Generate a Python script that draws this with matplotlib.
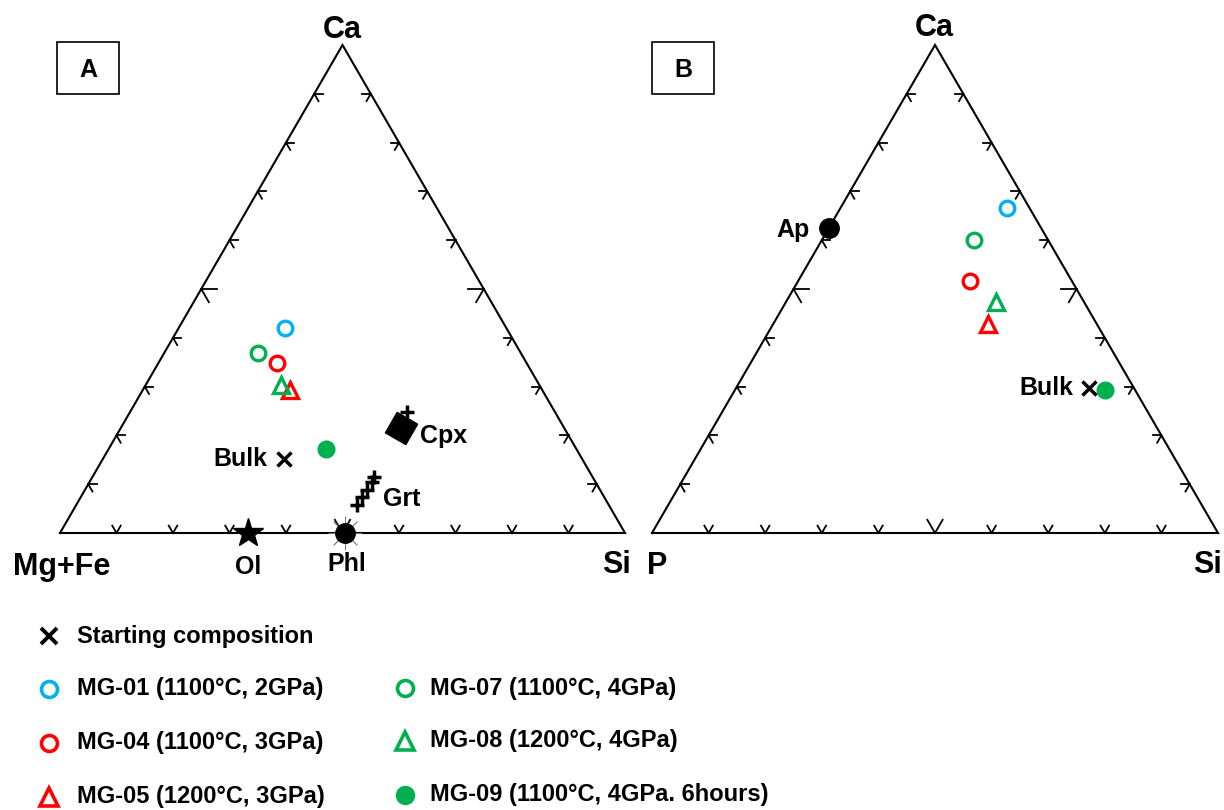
import numpy as np
import matplotlib
matplotlib.use('Agg')
import matplotlib.pyplot as plt
from matplotlib.patches import Rectangle

plt.rcParams['font.family'] = ['Liberation Sans', 'DejaVu Sans']
plt.rcParams['font.weight'] = 'bold'

H = np.sqrt(3) / 2

# sample order
samples = ['MG-01', 'MG-04', 'MG-05', 'MG-07', 'MG-08', 'MG-09']
sample_labels = ['MG-01 (1100°C, 2GPa)', 'MG-04 (1100°C, 3GPa)', 'MG-05 (1200°C, 3GPa)',
                 'MG-07 (1100°C, 4GPa)', 'MG-08 (1200°C, 4GPa)', 'MG-09 (1100°C, 4GPa. 6hours)']

# panel A : Ca - (Mg+Fe) - Si, fractions of Ca and Si (Mg+Fe = rest)
a_ca = [0.420, 0.348, 0.293, 0.369, 0.303, 0.172]
a_si = [0.188, 0.210, 0.260, 0.166, 0.239, 0.385]
a_bulk = (0.152, 0.320)
ol = (0.0, 0.333)
phl = (0.0, 0.505)
cpx_ca = [0.215]
cpx_si = [0.496]
cpx_out = (0.248, 0.490)
grt_ca = [0.057, 0.074, 0.088, 0.105, 0.115]
grt_si = [0.497, 0.498, 0.499, 0.500, 0.498]

# panel B : Ca - P - Si
b_ca = [0.666, 0.516, 0.428, 0.600, 0.473, 0.293]
b_si = [0.294, 0.304, 0.380, 0.269, 0.371, 0.653]
b_bulk = (0.297, 0.623)
ap = (0.625, 0.0)

BLUE = '#00b0f0'
RED = '#ff0000'
GREEN = '#00b050'
styles = {
    'MG-01': dict(marker='o', mfc='none', mec=BLUE, ms=10.5, mew=2.4),
    'MG-04': dict(marker='o', mfc='none', mec=RED, ms=10.5, mew=2.4),
    'MG-05': dict(marker='^', mfc='none', mec=RED, ms=11.5, mew=2.4),
    'MG-07': dict(marker='o', mfc='none', mec=GREEN, ms=10.5, mew=2.4),
    'MG-08': dict(marker='^', mfc='none', mec=GREEN, ms=11.5, mew=2.4),
    'MG-09': dict(marker='o', mfc=GREEN, mec=GREEN, ms=13, mew=0),
}


def tern(ca, si):
    ca = np.asarray(ca, dtype=float)
    si = np.asarray(si, dtype=float)
    return si + ca / 2, ca * H


def draw_triangle(ax):
    ax.plot([0, 1, 0.5, 0], [0, 0, H, 0], color='black', lw=1.5, clip_on=False,
            solid_joinstyle='miter')
    # ticks shaped like arrowheads, arms parallel to the other two sides
    up_r = np.array([0.5, H])
    up_l = np.array([-0.5, H])
    right = np.array([1.0, 0])
    down_r = np.array([0.5, -H])
    down_l = np.array([-0.5, -H])
    for t in np.arange(1, 10) / 10:
        L = 0.027 if abs(t - 0.5) < 1e-6 else 0.015
        edges = [(np.array([t, 0]), up_r, up_l),
                 (np.array([0.5 * t, H * t]), right, down_r),
                 (np.array([1 - 0.5 * t, H * t]), -right, down_l)]
        for p, d1, d2 in edges:
            for d in (d1, d2):
                ax.plot([p[0], p[0] + L * d[0]], [p[1], p[1] + L * d[1]],
                        color='black', lw=1.3, clip_on=False)
    ax.set_xlim(0, 1)
    ax.set_ylim(0, H)
    ax.axis('off')


def label(ax, xy, text, dx, dy, size=18, ha='center'):
    ax.annotate(text, xy=xy, xytext=(dx, dy), textcoords='offset pixels',
                ha=ha, va='center', fontsize=size, fontweight='bold')


fig = plt.figure(figsize=(12.24, 8.10), dpi=100)

axA = fig.add_axes([60 / 1224, 277 / 810, 565 / 1224, 488 / 810])
axB = fig.add_axes([652 / 1224, 277 / 810, 566 / 1224, 488 / 810])

# ---- panel A
draw_triangle(axA)
label(axA, (0.5, H), 'Ca', 0, 15, size=22)
label(axA, (0, 0), 'Mg+Fe', 2, -34, size=22)
label(axA, (1, 0), 'Si', -9, -32, size=22)

axA.plot(*tern(phl[0], phl[1]), marker=(8, 2, 0), ms=24, mec='#777777', mew=0.6,
         ls='none', clip_on=False)
axA.plot(*tern(phl[0], phl[1]), 'o', color='black', ms=14, clip_on=False)
axA.plot(*tern(ol[0], ol[1]), '*', color='black', ms=22, clip_on=False)
axA.plot(*tern(cpx_ca, cpx_si), marker=(4, 0, 15), color='black', ms=24, ls='none')
axA.plot(*tern(cpx_out[0], cpx_out[1]), '+', color='black', ms=10, mew=2.5)
axA.plot(*tern(grt_ca, grt_si), '+', color='black', ms=10, mew=2.5, ls='none')
for i, s in enumerate(samples):
    axA.plot(*tern(a_ca[i], a_si[i]), ls='none', **styles[s])
axA.plot(*tern(a_bulk[0], a_bulk[1]), 'x', color='black', ms=10, mew=2.5)

label(axA, tern(ol[0], ol[1]), 'Ol', 0, -34)
label(axA, tern(phl[0], phl[1]), 'Phl', 1, -31)
label(axA, tern(cpx_ca[0], cpx_si[0]), 'Cpx', 19, -8, ha='left')
label(axA, tern(grt_ca[2], grt_si[2]), 'Grt', 16, -9, ha='left')
label(axA, tern(a_bulk[0], a_bulk[1]), 'Bulk', -16, 0, ha='right')

# ---- panel B
draw_triangle(axB)
label(axB, (0.5, H), 'Ca', -1, 17, size=22)
label(axB, (0, 0), 'P', 5, -33, size=22)
label(axB, (1, 0), 'Si', -11, -32, size=22)

axB.plot(*tern(ap[0], ap[1]), 'o', color='black', ms=14, clip_on=False)
for i, s in enumerate(samples):
    axB.plot(*tern(b_ca[i], b_si[i]), ls='none', **styles[s])
axB.plot(*tern(b_bulk[0], b_bulk[1]), 'x', color='black', ms=10, mew=2.5)
label(axB, tern(ap[0], ap[1]), 'Ap', -19, -2, ha='right')
label(axB, tern(b_bulk[0], b_bulk[1]), 'Bulk', -15, 0, ha='right')

# ---- panel letters
for x0, letter in [(57, 'A'), (652, 'B')]:
    fig.add_artist(Rectangle((x0 / 1224, 1 - 94 / 810), 62 / 1224, 52 / 810,
                             transform=fig.transFigure, fill=False, lw=1.2, ec='black'))
    fig.text((x0 + 31) / 1224, 1 - 70 / 810, letter, ha='center', va='center',
             fontsize=18, fontweight='bold')

# ---- legend (drawn in figure pixel space)
legend_style = {
    'MG-01': dict(ms=11.5, mew=2.6), 'MG-04': dict(ms=11.5, mew=2.6),
    'MG-05': dict(ms=13, mew=2.6), 'MG-07': dict(ms=11.5, mew=2.6),
    'MG-08': dict(ms=13, mew=2.6), 'MG-09': dict(ms=14, mew=0),
}
axL = fig.add_axes([0, 0, 1, 1], zorder=-1)
axL.set_xlim(0, 1224)
axL.set_ylim(810, 0)
axL.axis('off')
axL.plot(49, 636, 'x', color='black', ms=11, mew=2.8)
axL.text(77, 636, 'Starting composition', va='center', fontsize=17, fontweight='bold')
legend_pos = {'MG-01': (49, 77, 689), 'MG-04': (49, 77, 743), 'MG-05': (49, 77, 797),
              'MG-07': (405, 430, 688), 'MG-08': (405, 430, 741), 'MG-09': (405, 430, 795)}
for s, lab in zip(samples, sample_labels):
    mx, tx, ty = legend_pos[s]
    st = dict(styles[s])
    st.update(legend_style[s])
    axL.plot(mx, ty, ls='none', clip_on=False, **st)
    axL.text(tx, ty, lab, va='center', fontsize=17, fontweight='bold')

fig.savefig('out.png', dpi=100)
